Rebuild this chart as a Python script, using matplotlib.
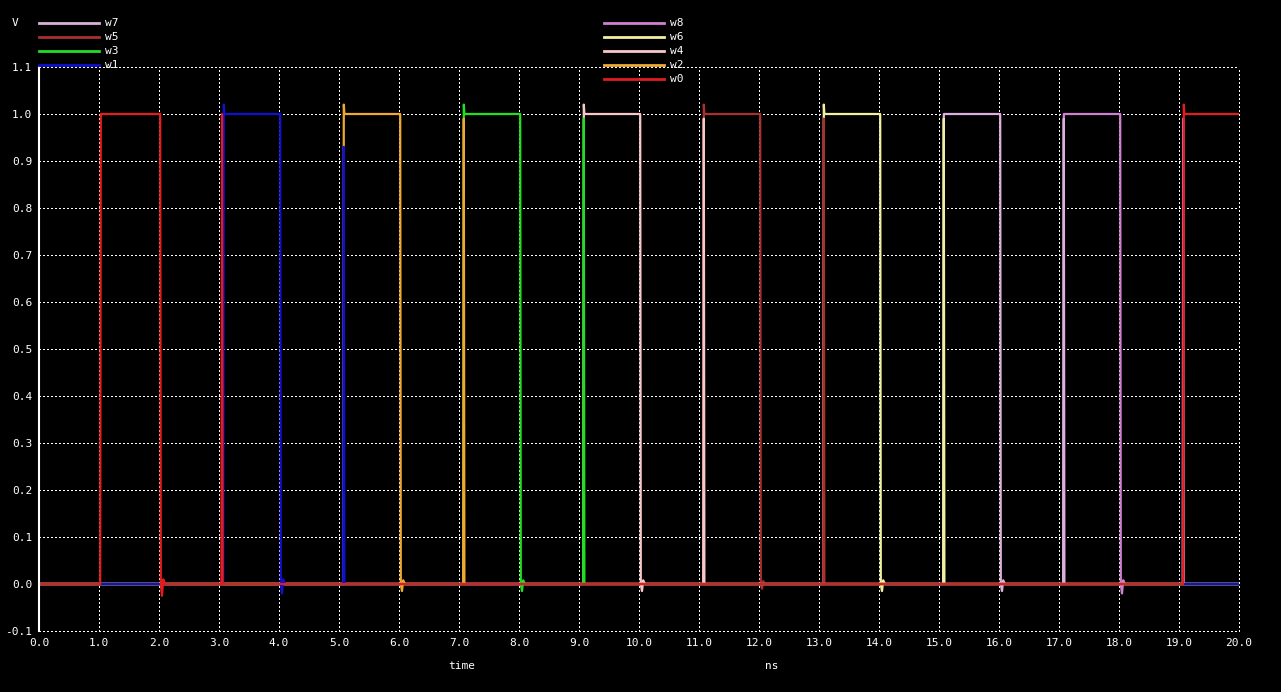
import matplotlib
matplotlib.use('Agg')
import matplotlib.pyplot as plt
from matplotlib.lines import Line2D

# waveform breakpoints (time in ns, voltage in V)
t_w0 = [0, 1.02, 1.03, 2.02, 2.03, 2.05, 2.07, 2.10, 3.04, 3.05, 3.06, 3.08, 19.07, 19.08, 19.09, 20]
v_w0 = [0, 0, 1.0, 1.0, 0, -0.025, 0.01, 0, 0, 1.0, 0, 0, 0, 1.02, 1.0, 1.0]

t_w1 = [0, 3.07, 3.08, 3.09, 4.02, 4.03, 4.05, 4.07, 4.10, 5.07, 5.08, 5.09, 20]
v_w1 = [0, 0, 1.02, 1.0, 1.0, 0, -0.02, 0.01, 0, 0, 0.93, 0, 0]

t_w2 = [0, 5.07, 5.08, 5.09, 6.02, 6.03, 6.05, 6.07, 6.10, 7.07, 7.08, 7.09, 20]
v_w2 = [0, 0, 1.02, 1.0, 1.0, 0, -0.015, 0.008, 0, 0, 0.99, 0, 0]

t_w3 = [0, 7.07, 7.08, 7.09, 8.02, 8.03, 8.05, 8.07, 8.10, 9.07, 9.08, 9.09, 20]
v_w3 = [0, 0, 1.02, 1.0, 1.0, 0, -0.015, 0.008, 0, 0, 0.99, 0, 0]

t_w4 = [0, 9.07, 9.08, 9.09, 10.02, 10.03, 10.05, 10.07, 10.10, 11.07, 11.08, 11.09, 20]
v_w4 = [0, 0, 1.02, 1.0, 1.0, 0, -0.015, 0.008, 0, 0, 0.99, 0, 0]

t_w5 = [0, 11.07, 11.08, 11.09, 12.02, 12.03, 12.05, 12.07, 12.10, 13.07, 13.08, 13.09, 20]
v_w5 = [0, 0, 1.02, 1.0, 1.0, 0, -0.01, 0.006, 0, 0, 0.99, 0, 0]

t_w6 = [0, 13.07, 13.08, 13.09, 14.02, 14.03, 14.05, 14.07, 14.10, 15.07, 15.08, 15.09, 20]
v_w6 = [0, 0, 1.02, 1.0, 1.0, 0, -0.015, 0.008, 0, 0, 0.99, 0, 0]

t_w7 = [0, 15.07, 15.08, 15.09, 16.02, 16.03, 16.05, 16.07, 16.10, 17.07, 17.08, 17.09, 20]
v_w7 = [0, 0, 1.0, 1.0, 1.0, 0, -0.015, 0.008, 0, 0, 0.99, 0, 0]

t_w8 = [0, 17.07, 17.08, 17.09, 18.02, 18.03, 18.05, 18.07, 18.10, 19.06, 19.07, 19.08, 20]
v_w8 = [0, 0, 1.0, 1.0, 1.0, 0, -0.02, 0.008, 0, 0, 0.99, 0, 0]

names = ['w0', 'w1', 'w2', 'w3', 'w4', 'w5', 'w6', 'w7', 'w8']
times = [t_w0, t_w1, t_w2, t_w3, t_w4, t_w5, t_w6, t_w7, t_w8]
volts = [v_w0, v_w1, v_w2, v_w3, v_w4, v_w5, v_w6, v_w7, v_w8]
colors = ['#e31c1c', '#1010d0', '#f0a830', '#22dd22', '#f8c8c8',
          '#a83030', '#f0f0a0', '#dcb0dc', '#d080d0']

xticks = [i for i in range(21)]
yticks = [-0.1, 0.0, 0.1, 0.2, 0.3, 0.4, 0.5, 0.6, 0.7, 0.8, 0.9, 1.0, 1.1]

W, H = 1281, 692
fig = plt.figure(figsize=(W / 100, H / 100), dpi=100, facecolor='black')
ax = fig.add_axes([39 / W, 1 - 631 / H, 1200 / W, 564 / H])
ax.set_facecolor('black')

mono = 'DejaVu Sans Mono'

# draw in reverse so w0 ends up on top
for i in range(len(names) - 1, -1, -1):
    ax.plot(times[i], volts[i], color=colors[i], lw=1.6, zorder=3)

ax.set_xlim(0, 20)
ax.set_ylim(-0.1, 1.1)
ax.set_xticks(xticks)
ax.set_yticks(yticks)
ax.set_xticklabels(['%.1f' % x for x in xticks], fontfamily=mono, fontsize=8, color='white')
ax.set_yticklabels(['%.1f' % y for y in yticks], fontfamily=mono, fontsize=8, color='white')
ax.tick_params(length=0, pad=5)
ax.grid(True, color='white', linestyle=(0, (1, 1.5)), linewidth=1.0, zorder=1)
ax.set_axisbelow(True)
for gl in ax.get_xgridlines() + ax.get_ygridlines():
    gl.set_clip_on(False)
    gl.set_antialiased(False)
for s in ['top', 'right', 'bottom']:
    ax.spines[s].set_visible(False)
ax.spines['left'].set_color('white')
ax.spines['left'].set_linewidth(1.5)
ax.spines['left'].set_zorder(4)

# labels
fig.text(12 / W, 1 - 23 / H, 'V', fontfamily=mono, fontsize=8, color='white', va='center')
fig.text(448 / W, 1 - 666 / H, 'time', fontfamily=mono, fontsize=8, color='white', va='center')
fig.text(765 / W, 1 - 666 / H, 'ns', fontfamily=mono, fontsize=8, color='white', va='center')

# legend, two columns
left_col = ['w7', 'w5', 'w3', 'w1']
right_col = ['w8', 'w6', 'w4', 'w2', 'w0']
for col, x0, x1, xt in [(left_col, 39, 99, 105), (right_col, 604, 664, 670)]:
    for j, nm in enumerate(col):
        y = 1 - (23 + 14 * j) / H
        c = colors[names.index(nm)]
        fig.add_artist(Line2D([x0 / W, x1 / W], [y, y], color=c, lw=2, transform=fig.transFigure))
        fig.text(xt / W, y, nm, fontfamily=mono, fontsize=8, color='white', va='center')

plt.savefig('out.png', dpi=100, facecolor='black')
